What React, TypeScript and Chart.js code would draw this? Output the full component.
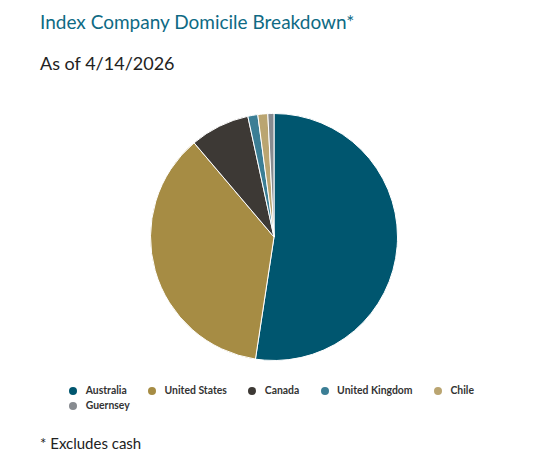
import React, { useEffect, useRef } from "react";
import { Chart, registerables } from "chart.js";

Chart.register(...registerables);

const categories = ["Australia", "United States", "Canada", "United Kingdom", "Chile", "Guernsey"];
const weights = [52.4, 36.4, 7.8, 1.3, 1.3, 0.8];
const colors = ["#00566f", "#a68c44", "#3d3935", "#3b7e95", "#baa571", "#878b90"];
const titleText = "Index Company Domicile Breakdown*";
const subtitleText = "As of 4/14/2026";
const footnoteText = "* Excludes cash";

const FONT = "Lato, 'Open Sans', sans-serif";

export default function App() {
  const canvasRef = useRef<HTMLCanvasElement | null>(null);

  useEffect(() => {
    const canvas = canvasRef.current;
    if (!canvas) return;
    const chart = new Chart(canvas, {
      type: "pie",
      data: {
        labels: categories,
        datasets: [
          {
            data: weights,
            backgroundColor: colors,
            borderColor: "#ffffff",
            borderWidth: 1,
          },
        ],
      },
      options: {
        animation: false,
        responsive: false,
        maintainAspectRatio: false,
        layout: { padding: 0 },
        plugins: {
          legend: { display: false },
          tooltip: { enabled: false },
          title: { display: false },
        },
      },
    });
    return () => chart.destroy();
  }, []);

  return (
    <div style={{ position: "relative", width: 518, height: 458, fontFamily: FONT }}>
      <div
        style={{
          position: "absolute",
          left: 32,
          top: 3.25,
          fontSize: 19,
          lineHeight: 1.2,
          color: "#0e6a84",
          whiteSpace: "nowrap",
        }}
      >
        {titleText}
      </div>
      <div
        style={{
          position: "absolute",
          left: 32,
          top: 45,
          fontSize: 18,
          lineHeight: 1.2,
          color: "#222222",
          whiteSpace: "nowrap",
        }}
      >
        {subtitleText}
      </div>
      <canvas
        ref={canvasRef}
        width={248}
        height={248}
        style={{ position: "absolute", left: 142, top: 105.3, width: 248, height: 248 }}
      />
      <div
        style={{
          position: "absolute",
          left: 61.3,
          top: 375.2,
          width: 460,
          display: "flex",
          flexWrap: "wrap",
          fontSize: 10.4,
          fontWeight: 700,
          color: "#333333",
          lineHeight: "15px",
        }}
      >
        {categories.map((c, i) => (
          <div
            key={c}
            style={{ display: "flex", alignItems: "center", marginRight: 21.5, whiteSpace: "nowrap" }}
          >
            <span
              style={{
                display: "inline-block",
                width: 8,
                height: 8,
                borderRadius: "50%",
                background: colors[i],
                marginRight: 8.4,
              }}
            />
            <span>{c}</span>
          </div>
        ))}
      </div>
      <div
        style={{
          position: "absolute",
          left: 32,
          top: 425.5,
          fontSize: 15,
          lineHeight: 1.2,
          color: "#222222",
          whiteSpace: "nowrap",
        }}
      >
        {footnoteText}
      </div>
    </div>
  );
}
